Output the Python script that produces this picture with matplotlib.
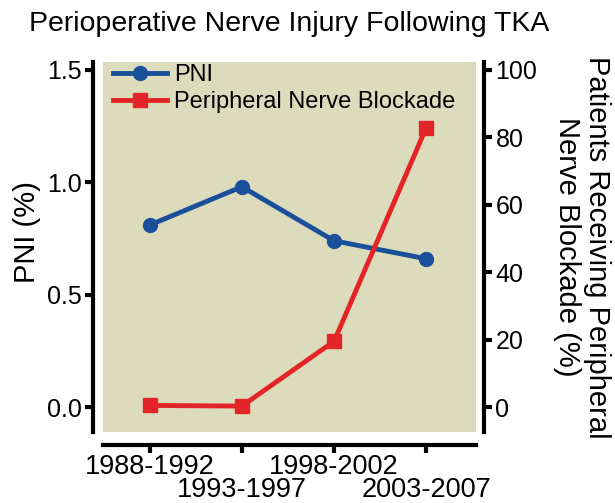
import matplotlib.pyplot as plt

plt.rcParams['font.family'] = ['Liberation Sans', 'DejaVu Sans']

periods = ["1988-1992", "1993-1997", "1998-2002", "2003-2007"]
pni = [0.81, 0.98, 0.74, 0.66]
blockade = [0.5, 0.3, 19.5, 82.8]

blue = "#1a4f9a"
red = "#e42528"
bg = "#dcdcbc"

fig = plt.figure(figsize=(6.15, 5.03), dpi=100)
ax = fig.add_axes([0.167, 0.141, 0.607, 0.736])
ax2 = ax.twinx()

ax.set_facecolor(bg)
ax.set_zorder(1)
ax2.set_zorder(2)
ax2.patch.set_visible(False)

x = list(range(len(periods)))
l1, = ax.plot(x, pni, color=blue, lw=3.5, marker="o", ms=10, label="PNI")
l2, = ax2.plot(x, blockade, color=red, lw=3.5, marker="s", ms=9.5,
               label="Peripheral Nerve Blockade")

ax.set_xlim(-0.51, 3.54)
ax.set_ylim(-0.11, 1.535)
ax2.set_ylim(-7.4, 102.3)

ax.set_yticks([0.0, 0.5, 1.0, 1.5])
ax.set_yticklabels(["0.0", "0.5", "1.0", "1.5"])
ax2.set_yticks([0, 20, 40, 60, 80, 100])
ax.set_xticks(x)
ax.set_xticklabels(periods)

for a in (ax, ax2):
    for s in a.spines.values():
        s.set_visible(False)
    a.tick_params(width=3, length=6, labelsize=18, pad=2)

ax.spines["left"].set_visible(True)
ax.spines["left"].set_position(("outward", 7))
ax.spines["left"].set_linewidth(3)
ax.spines["bottom"].set_visible(True)
ax.spines["bottom"].set_position(("outward", 9))
ax.spines["bottom"].set_linewidth(3)
ax2.spines["right"].set_visible(True)
ax2.spines["right"].set_position(("outward", 6))
ax2.spines["right"].set_linewidth(3)
ax.tick_params(axis="x", pad=1, labelsize=19.5)

# staggered x labels
for i, t in enumerate(ax.xaxis.get_major_ticks()):
    if i % 2 == 1:
        t.set_pad(17)

ax.set_ylabel("PNI (%)", fontsize=21)
ax.yaxis.set_label_coords(-0.204, 0.541)
ax.yaxis.label.set_va("center")

ax2.set_ylabel("Patients Receiving Peripheral\nNerve Blockade (%)", fontsize=21,
               rotation=270, linespacing=1.1)
ax2.yaxis.set_label_coords(1.283, 0.5)
ax2.yaxis.label.set_va("center")
ax2.yaxis.label.set_ha("center")
ax2.yaxis.label.set_multialignment("center")

ax.set_title("Perioperative Nerve Injury Following TKA", fontsize=20.5, pad=22)

leg = ax2.legend([l1, l2], ["PNI", "Peripheral Nerve Blockade"], loc="upper left",
                 bbox_to_anchor=(0.02, 1.0), frameon=False, fontsize=17,
                 handlelength=2.3, borderaxespad=0.0, borderpad=0.1,
                 labelspacing=0.2, handletextpad=0.3)

fig.savefig("out.png", dpi=100)
